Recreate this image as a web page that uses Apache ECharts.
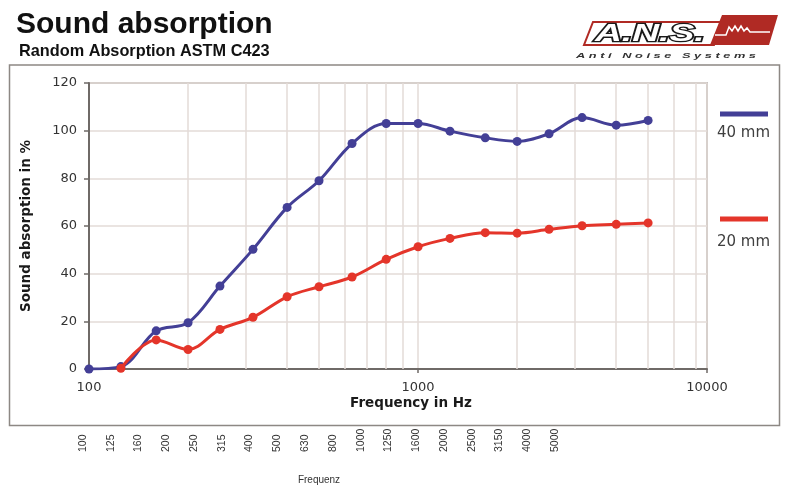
<!DOCTYPE html>
<html>
<head>
<meta charset="utf-8">
<style>
  html, body { margin: 0; padding: 0; background: #ffffff; }
  #chart { width: 790px; height: 500px; }
</style>
<script src="https://cdn.jsdelivr.net/npm/echarts@6/dist/echarts.min.js"></script>
</head>
<body>
<div id="chart"></div>
<script>
// ---- data ----
const freqs = [100, 125, 160, 200, 250, 315, 400, 500, 630, 800, 1000, 1250, 1600, 2000, 2500, 3150, 4000, 5000];
const abs40 = [0, 1, 16, 19.4, 34.8, 50.2, 67.8, 79, 94.6, 103, 103, 99.8, 97, 95.5, 98.7, 105.5, 102.3, 104.3];
const abs20 = [null, 0.3, 12.2, 8.2, 16.6, 21.7, 30.3, 34.5, 38.6, 46, 51.3, 54.8, 57.2, 57, 58.6, 60.1, 60.7, 61.3];
const seriesNames = ['40 mm', '20 mm'];
const minorGrid = [200, 300, 400, 500, 600, 700, 800, 900, 2000, 3000, 4000, 5000, 6000, 7000];
const bandLabels = ['100', '125', '160', '200', '250', '315', '400', '500', '630', '800', '1000', '1250', '1600', '2000', '2500', '3150', '4000', '5000'];
const xMin = 100, xMaxShown = 7550, xMaxLabel = '10000';
const titleText = 'Sound absorption';
const subText = 'Random Absorption ASTM C423';

const blue = '#433f96';
const red = '#e4352a';

const pairs = (vals) => freqs.map((f, i) => [f, vals[i]]).filter(p => p[1] !== null);

const chart = echarts.init(document.getElementById('chart'), null, { renderer: 'canvas' });

const option = {
  animation: false,
  backgroundColor: '#ffffff',
  title: [
    { text: titleText, left: 11, top: 5, textStyle: { fontFamily: 'Liberation Sans, Arial', fontWeight: 'bold', fontSize: 30, color: '#111' } },
    { text: subText, left: 14, top: 39, textStyle: { fontFamily: 'Liberation Sans, Arial', fontWeight: 'bold', fontSize: 16.3, color: '#111' } }
  ],
  grid: [
    { left: 89, right: 83, top: 83, bottom: 131, show: true, borderColor: '#9c9591', borderWidth: 1.5, backgroundColor: 'transparent' },
    { left: 69, right: 221, top: 454, height: 1, show: false }
  ],
  xAxis: [
    {
      type: 'log', logBase: 10, min: xMin, max: xMaxShown, gridIndex: 0,
      name: 'Frequency in Hz', nameLocation: 'middle', nameGap: 27, nameMoveOverlap: false,
      nameTextStyle: { fontFamily: 'DejaVu Sans', fontWeight: 'bold', fontSize: 13.5, color: '#1a1a1a', padding: [0, 0, 0, 26] },
      axisLine: { show: true, lineStyle: { color: '#6f6a67', width: 2 } },
      axisTick: { show: true, length: 4, lineStyle: { color: '#6f6a67', width: 1.5 } },
      axisLabel: {
        showMinLabel: true, showMaxLabel: true, margin: 12,
        fontFamily: 'DejaVu Sans', fontSize: 13, color: '#333',
        formatter: (v) => (v > 5000 ? xMaxLabel : String(Math.round(v)))
      },
      splitLine: { show: true, lineStyle: { color: '#e3dbd7', width: 1.5 } },
      minorTick: { show: false }, minorSplitLine: { show: false }
    },
    {
      type: 'category', gridIndex: 1, position: 'top', data: bandLabels,
      name: 'Frequenz', nameLocation: 'middle', nameGap: -31, nameMoveOverlap: false,
      nameTextStyle: { fontFamily: 'Liberation Sans, Arial', fontSize: 10, color: '#333' },
      axisLine: { show: false }, axisTick: { show: false }, splitLine: { show: false },
      axisLabel: { interval: 0, rotate: 90, margin: 2, fontFamily: 'Liberation Sans, Arial', fontSize: 10.5, color: '#333' }
    }
  ],
  yAxis: [
    {
      type: 'value', min: 0, max: 120, interval: 20, gridIndex: 0,
      name: 'Sound absorption in %', nameLocation: 'middle', nameGap: 56, nameMoveOverlap: false,
      nameTextStyle: { fontFamily: 'DejaVu Sans', fontWeight: 'bold', fontSize: 13.5, color: '#1a1a1a' },
      axisLine: { show: true, lineStyle: { color: '#6f6a67', width: 2 } },
      axisTick: { show: true, inside: false, length: 5, lineStyle: { color: '#6f6a67', width: 1.5 } },
      axisLabel: { margin: 12, fontFamily: 'DejaVu Sans', fontSize: 13, color: '#333' },
      splitLine: { show: true, lineStyle: { color: '#e3dbd7', width: 1.5 } }
    },
    { type: 'value', gridIndex: 1, show: false }
  ],
  series: [
    {
      name: 'minor-grid', type: 'line', xAxisIndex: 0, yAxisIndex: 0, data: [], z: 1, silent: true,
      markLine: {
        silent: true, z: 1, symbol: ['none', 'none'], label: { show: false }, animation: false,
        lineStyle: { color: '#e3dbd7', width: 1.5, type: 'solid' },
        emphasis: { disabled: true },
        data: minorGrid.map(v => ({ xAxis: v }))
      }
    },
    {
      name: seriesNames[0], type: 'line', xAxisIndex: 0, yAxisIndex: 0, data: pairs(abs40),
      smooth: 0.35, symbol: 'circle', symbolSize: 9, z: 3,
      lineStyle: { color: blue, width: 3 }, itemStyle: { color: blue }
    },
    {
      name: seriesNames[1], type: 'line', xAxisIndex: 0, yAxisIndex: 0, data: pairs(abs20),
      smooth: 0.35, symbol: 'circle', symbolSize: 9, z: 4,
      lineStyle: { color: red, width: 3 }, itemStyle: { color: red }
    }
  ],
  graphic: [
    // outer frame
    { type: 'rect', shape: { x: 9.5, y: 65, width: 770, height: 360.5 }, style: { fill: 'none', stroke: '#8d8884', lineWidth: 1.5 }, z: -1, silent: true },
    // legend
    { type: 'rect', shape: { x: 720, y: 111.5, width: 48, height: 5 }, style: { fill: blue }, silent: true },
    { type: 'text', x: 717, y: 133, style: { text: seriesNames[0], font: '15px "DejaVu Sans"', fill: '#404040', textVerticalAlign: 'middle' }, silent: true },
    { type: 'rect', shape: { x: 720, y: 216.5, width: 48, height: 5 }, style: { fill: red }, silent: true },
    { type: 'text', x: 717, y: 242, style: { text: seriesNames[1], font: '15px "DejaVu Sans"', fill: '#404040', textVerticalAlign: 'middle' }, silent: true },
    // logo
    { type: 'polygon', shape: { points: [[722, 15], [778, 15], [769, 45], [710, 45]] }, style: { fill: '#b02a24' }, silent: true, z: 10 },
    { type: 'polygon', shape: { points: [[593, 22], [723, 22], [714, 45], [584, 45]] }, style: { fill: '#fff', stroke: '#b02a24', lineWidth: 2 }, silent: true, z: 9 },
    { type: 'polyline', shape: { points: [[715, 35], [726, 35], [729, 27], [732, 31], [735, 26], [738, 31], [741, 26], [744, 31], [747, 28], [750, 32], [770, 32]] }, style: { stroke: '#fff', lineWidth: 1.5, fill: 'none' }, silent: true, z: 11 },
    { type: 'text', x: 595, y: 34, scaleX: 1.55, originX: 0, originY: 0, style: { text: 'A.N.S.', font: 'italic bold 24px "Liberation Sans"', fill: '#fff', stroke: '#1a1a1a', lineWidth: 2.6, textVerticalAlign: 'middle' }, silent: true, z: 11 },
    { type: 'text', x: 576, y: 56, scaleX: 1.6, originX: 0, originY: 0, style: { text: 'A n t i   N o i s e   S y s t e m s', font: 'italic bold 8px "Liberation Sans"', fill: '#333', textVerticalAlign: 'middle' }, silent: true, z: 11 }
  ]
};

chart.setOption(option);
</script>
</body>
</html>
